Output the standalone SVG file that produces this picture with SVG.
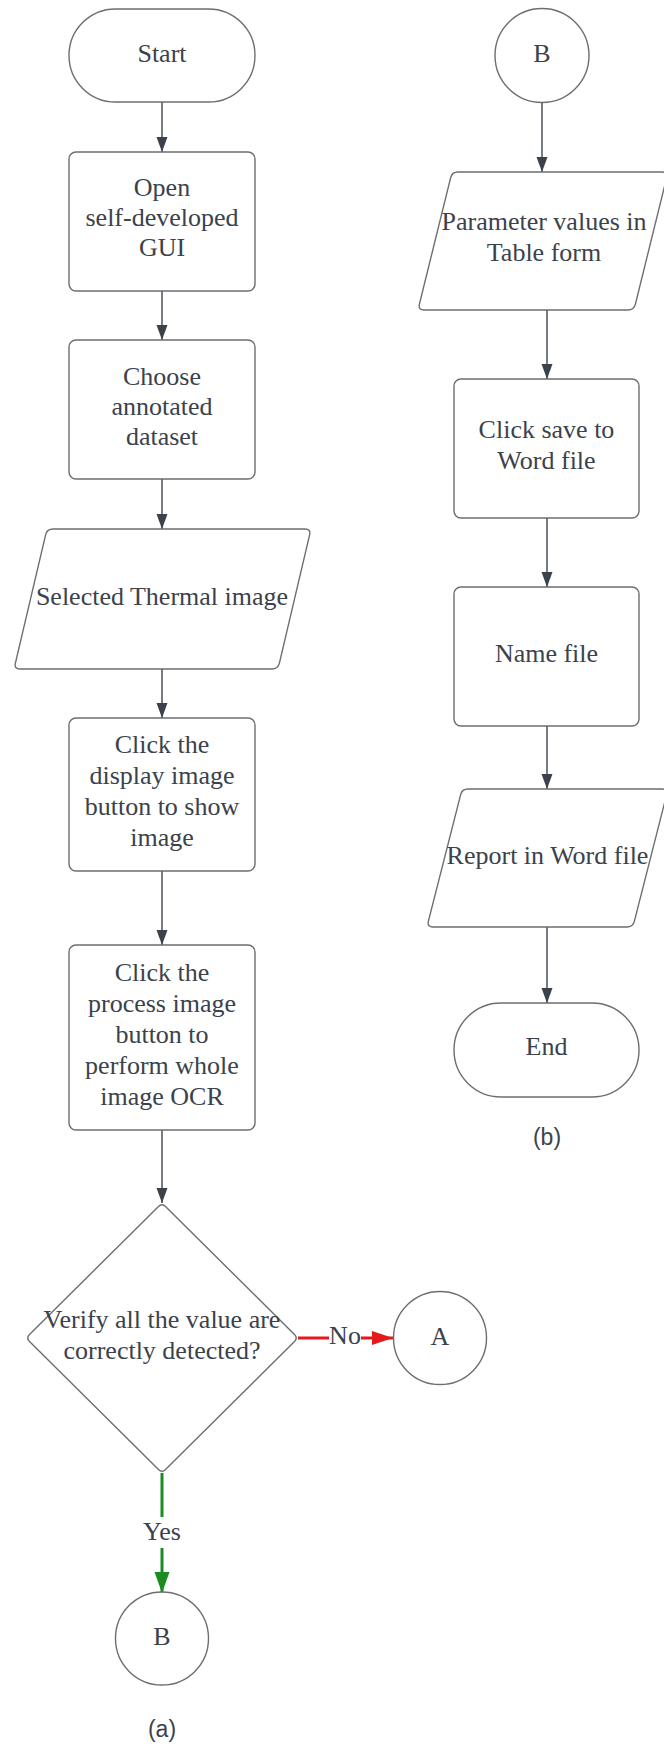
<svg xmlns="http://www.w3.org/2000/svg" width="664" height="1748" viewBox="0 0 664 1748">
<style>
  .shape { fill: #ffffff; stroke: #6b6e72; stroke-width: 1.4; }
  .t { font-family: "Liberation Serif", "Times New Roman", serif; font-size: 26px; fill: #3b424b; text-anchor: middle; }
  .cap { font-family: "Liberation Sans", Arial, sans-serif; font-size: 23px; fill: #3b424b; text-anchor: middle; }
  .conn { fill: none; stroke: #4a5058; stroke-width: 1.5; }
  .red { fill: none; stroke: #e3191c; stroke-width: 3; }
  .green { fill: none; stroke: #1b8c22; stroke-width: 3; }
</style>
<defs>
  <marker id="ah" markerUnits="userSpaceOnUse" markerWidth="16" markerHeight="12" refX="15" refY="6" orient="auto">
    <path d="M0,0.5 L15,6 L0,11.5 Z" fill="#3b424b"/>
  </marker>
  <marker id="ahRed" markerUnits="userSpaceOnUse" markerWidth="22" markerHeight="16" refX="21" refY="8" orient="auto">
    <path d="M0,1 L21,8 L0,15 Z" fill="#e3191c"/>
  </marker>
  <marker id="ahGreen" markerUnits="userSpaceOnUse" markerWidth="22" markerHeight="17" refX="21" refY="8.5" orient="auto">
    <path d="M0,1 L21,8.5 L0,16 Z" fill="#1b8c22"/>
  </marker>
</defs>
<rect x="0" y="0" width="664" height="1748" fill="#ffffff"/>

<g id="connectors">
  <line class="conn" x1="162" y1="102" x2="162" y2="152" marker-end="url(#ah)"/>
  <line class="conn" x1="162" y1="291" x2="162" y2="340" marker-end="url(#ah)"/>
  <line class="conn" x1="162" y1="479" x2="162" y2="529" marker-end="url(#ah)"/>
  <line class="conn" x1="162" y1="669" x2="162" y2="718" marker-end="url(#ah)"/>
  <line class="conn" x1="162" y1="871" x2="162" y2="945" marker-end="url(#ah)"/>
  <line class="conn" x1="162" y1="1130" x2="162" y2="1203" marker-end="url(#ah)"/>
  <g id="edge-no">
    <line class="red" x1="298" y1="1338" x2="393" y2="1338" marker-end="url(#ahRed)"/>
    <rect x="329" y="1326" width="32" height="22" fill="#ffffff"/>
    <text class="t" x="345" y="1344">No</text>
  </g>
  <g id="edge-yes">
    <line class="green" x1="162" y1="1473" x2="162" y2="1593" marker-end="url(#ahGreen)"/>
    <rect x="140" y="1517" width="44" height="31" fill="#ffffff"/>
    <text class="t" x="162" y="1540">Yes</text>
  </g>
  <line class="conn" x1="542" y1="102" x2="542" y2="172" marker-end="url(#ah)"/>
  <line class="conn" x1="547" y1="310" x2="547" y2="379" marker-end="url(#ah)"/>
  <line class="conn" x1="547" y1="518" x2="547" y2="587" marker-end="url(#ah)"/>
  <line class="conn" x1="547" y1="726" x2="547" y2="789" marker-end="url(#ah)"/>
  <line class="conn" x1="547" y1="927" x2="547" y2="1003" marker-end="url(#ah)"/>
</g>

<g id="start">
  <rect class="shape" x="69" y="9" width="186" height="93" rx="46.5"/>
  <text class="t" x="162" y="62">Start</text>
</g>
<g id="open-gui">
  <rect class="shape" x="69" y="152" width="186" height="139" rx="7"/>
  <text class="t" x="162" y="196">Open</text>
  <text class="t" x="162" y="226">self-developed</text>
  <text class="t" x="162" y="256">GUI</text>
</g>
<g id="choose-dataset">
  <rect class="shape" x="69" y="340" width="186" height="139" rx="7"/>
  <text class="t" x="162" y="385">Choose</text>
  <text class="t" x="162" y="415">annotated</text>
  <text class="t" x="162" y="445">dataset</text>
</g>
<g id="selected-image">
  <path class="shape" d="M53,529 L305,529 Q311,529 309.6,534.8 L279.4,663.2 Q278,669 272,669 L20,669 Q14,669 15.4,663.2 L45.6,534.8 Q47,529 53,529 Z"/>
  <text class="t" x="162" y="605">Selected Thermal image</text>
</g>
<g id="display-image">
  <rect class="shape" x="69" y="718" width="186" height="153" rx="7"/>
  <text class="t" x="162" y="753">Click the</text>
  <text class="t" x="162" y="784">display image</text>
  <text class="t" x="162" y="815">button to show</text>
  <text class="t" x="162" y="846">image</text>
</g>
<g id="process-image">
  <rect class="shape" x="69" y="945" width="186" height="185" rx="7"/>
  <text class="t" x="162" y="981">Click the</text>
  <text class="t" x="162" y="1012">process image</text>
  <text class="t" x="162" y="1043">button to</text>
  <text class="t" x="162" y="1074">perform whole</text>
  <text class="t" x="162" y="1105">image OCR</text>
</g>
<g id="verify">
  <path class="shape" d="M158.5,1206.5 Q162,1203 165.5,1206.5 L294.5,1334.5 Q298,1338 294.5,1341.5 L165.5,1469.5 Q162,1473 158.5,1469.5 L29.5,1341.5 Q26,1338 29.5,1334.5 Z"/>
  <text class="t" x="162" y="1328">Verify all the value are</text>
  <text class="t" x="162" y="1359">correctly detected?</text>
</g>
<g id="connector-a">
  <circle class="shape" cx="440" cy="1338" r="46.5"/>
  <text class="t" x="440" y="1345">A</text>
</g>
<g id="connector-b-out">
  <circle class="shape" cx="162" cy="1638.5" r="46.5"/>
  <text class="t" x="162" y="1645">B</text>
</g>
<text class="cap" x="162" y="1737">(a)</text>

<g id="connector-b-in">
  <circle class="shape" cx="542" cy="55.5" r="47"/>
  <text class="t" x="542" y="62">B</text>
</g>
<g id="parameter-table">
  <path class="shape" d="M458,172 L662,172 Q668,172 666.6,177.8 L635.4,304.2 Q634,310 628,310 L424,310 Q418,310 419.4,304.2 L450.6,177.8 Q452,172 458,172 Z"/>
  <text class="t" x="544" y="230">Parameter values in</text>
  <text class="t" x="544" y="261">Table form</text>
</g>
<g id="save-word">
  <rect class="shape" x="454" y="379" width="185" height="139" rx="7"/>
  <text class="t" x="546.5" y="438">Click save to</text>
  <text class="t" x="546.5" y="469">Word file</text>
</g>
<g id="name-file">
  <rect class="shape" x="454" y="587" width="185" height="139" rx="7"/>
  <text class="t" x="546.5" y="662">Name file</text>
</g>
<g id="report-word">
  <path class="shape" d="M468,789 L662,789 Q668,789 666.6,794.8 L634.4,921.2 Q633,927 627,927 L433,927 Q427,927 428.4,921.2 L460.6,794.8 Q462,789 468,789 Z"/>
  <text class="t" x="547.5" y="864">Report in Word file</text>
</g>
<g id="end">
  <rect class="shape" x="454" y="1003" width="185" height="94" rx="47"/>
  <text class="t" x="546.5" y="1055">End</text>
</g>
<text class="cap" x="547" y="1145">(b)</text>
</svg>
